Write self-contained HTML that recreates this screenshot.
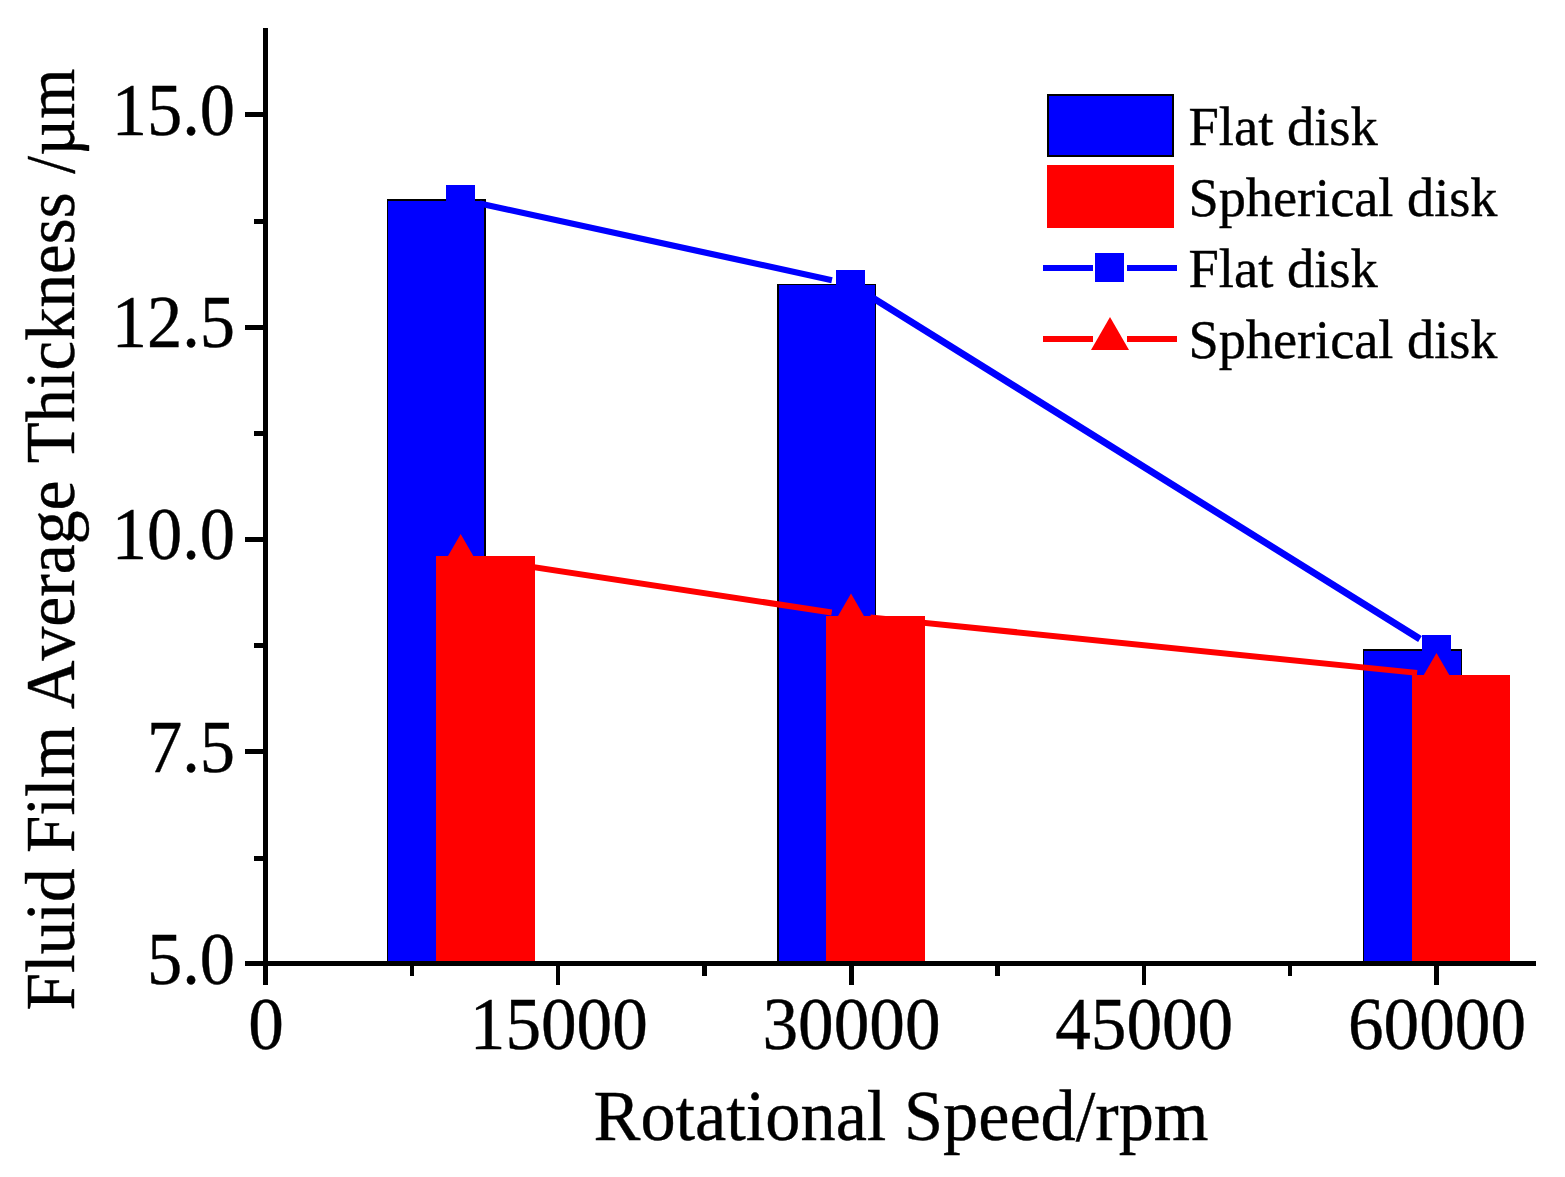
<!DOCTYPE html>
<html lang="en"><head><meta charset="utf-8"><title>Fluid Film Average Thickness vs Rotational Speed</title>
<style>html,body{margin:0;padding:0;background:#fff}svg{display:block}text{font-family:"Liberation Serif",serif;fill:#000;font-kerning:none;stroke:#000;stroke-width:0.4px}</style></head><body>
<svg width="1565" height="1177" viewBox="0 0 1565 1177">
<rect x="0" y="0" width="1565" height="1177" fill="#ffffff"/>
<g shape-rendering="crispEdges">
<rect x="387" y="199" width="99" height="762" fill="#000"/>
<rect x="388" y="201" width="96" height="760" fill="#0000ff"/>
<rect x="777" y="284" width="99" height="677" fill="#000"/>
<rect x="779" y="285" width="96" height="676" fill="#0000ff"/>
<rect x="1363" y="649" width="99" height="312" fill="#000"/>
<rect x="1364" y="651" width="97" height="310" fill="#0000ff"/>
<rect x="436" y="556" width="99" height="405" fill="#ff0000"/>
<rect x="826" y="616" width="99" height="345" fill="#ff0000"/>
<rect x="1412" y="675" width="98" height="286" fill="#ff0000"/>
</g>
<line x1="479.72" y1="203.54" x2="831.95" y2="280.16" stroke="#0000ff" stroke-width="6.2"/>
<line x1="867.55" y1="294.62" x2="1419.95" y2="639.05" stroke="#0000ff" stroke-width="6.9"/>
<rect x="446" y="185" width="29" height="29" fill="#0000ff" shape-rendering="crispEdges"/>
<rect x="836" y="270" width="29" height="29" fill="#0000ff" shape-rendering="crispEdges"/>
<rect x="1422" y="635" width="29" height="29" fill="#0000ff" shape-rendering="crispEdges"/>
<line x1="479.94" y1="558.92" x2="831.72" y2="612.47" stroke="#ff0000" stroke-width="6"/>
<line x1="870.40" y1="617.38" x2="1417.10" y2="672.87" stroke="#ff0000" stroke-width="6"/>
<polygon points="460.67,534.04 479.67,566.95 441.67,566.95" fill="#ff0000"/>
<polygon points="851.00,593.47 870.00,626.38 832.00,626.38" fill="#ff0000"/>
<polygon points="1436.50,652.90 1455.50,685.81 1417.50,685.81" fill="#ff0000"/>
<g fill="#000" shape-rendering="crispEdges">
<rect x="263" y="28" width="5" height="957"/>
<rect x="245" y="961" width="1291" height="5"/>
<rect x="245" y="112" width="18" height="5"/>
<rect x="245" y="325" width="18" height="5"/>
<rect x="245" y="537" width="18" height="5"/>
<rect x="245" y="749" width="18" height="5"/>
<rect x="254" y="219" width="9" height="5"/>
<rect x="254" y="431" width="9" height="5"/>
<rect x="254" y="643" width="9" height="5"/>
<rect x="254" y="856" width="9" height="5"/>
<rect x="556" y="966" width="4" height="19"/>
<rect x="849" y="966" width="5" height="19"/>
<rect x="1142" y="966" width="4" height="19"/>
<rect x="1434" y="966" width="5" height="19"/>
<rect x="410" y="966" width="4" height="10"/>
<rect x="702" y="966" width="5" height="10"/>
<rect x="995" y="966" width="5" height="10"/>
<rect x="1288" y="966" width="4" height="10"/>
</g>
<text class="yt" x="235" y="134.9" font-size="73.8" text-anchor="end" textLength="123.3" lengthAdjust="spacingAndGlyphs">15.0</text>
<text class="yt" x="235" y="347.1" font-size="73.8" text-anchor="end" textLength="123.3" lengthAdjust="spacingAndGlyphs">12.5</text>
<text class="yt" x="235" y="559.4" font-size="73.8" text-anchor="end" textLength="123.3" lengthAdjust="spacingAndGlyphs">10.0</text>
<text class="yt" x="235" y="771.6" font-size="73.8" text-anchor="end" textLength="88.1" lengthAdjust="spacingAndGlyphs">7.5</text>
<text class="yt" x="235" y="983.9" font-size="73.8" text-anchor="end" textLength="88.1" lengthAdjust="spacingAndGlyphs">5.0</text>
<text class="xt" x="266.0" y="1049" font-size="73.8" text-anchor="middle" textLength="35.6" lengthAdjust="spacingAndGlyphs">0</text>
<text class="xt" x="558.8" y="1049" font-size="73.8" text-anchor="middle" textLength="178.0" lengthAdjust="spacingAndGlyphs">15000</text>
<text class="xt" x="851.5" y="1049" font-size="73.8" text-anchor="middle" textLength="178.0" lengthAdjust="spacingAndGlyphs">30000</text>
<text class="xt" x="1144.2" y="1049" font-size="73.8" text-anchor="middle" textLength="178.0" lengthAdjust="spacingAndGlyphs">45000</text>
<text class="xt" x="1437.0" y="1049" font-size="73.8" text-anchor="middle" textLength="178.0" lengthAdjust="spacingAndGlyphs">60000</text>
<text id="xl" x="593.5" y="1139.5" font-size="72.3" textLength="615" lengthAdjust="spacingAndGlyphs">Rotational Speed/rpm</text>
<text id="yl" transform="translate(74.4,1010) rotate(-90)" font-size="69"><tspan x="-0.5" textLength="142.1" lengthAdjust="spacingAndGlyphs">Fluid</tspan> <tspan x="157.1" textLength="126.8" lengthAdjust="spacingAndGlyphs">Film</tspan> <tspan x="300.7" textLength="228.8" lengthAdjust="spacingAndGlyphs">Average</tspan> <tspan x="546.7" textLength="271.0" lengthAdjust="spacingAndGlyphs">Thickness</tspan> <tspan x="836.3" textLength="104.9" lengthAdjust="spacingAndGlyphs">/µm</tspan></text>
<g shape-rendering="crispEdges">
<rect x="1047" y="94" width="127" height="63" fill="#000"/><rect x="1049" y="96" width="123" height="59" fill="#0000ff"/>
<rect x="1047" y="165" width="127" height="63" fill="#ff0000"/>
<rect x="1043" y="265" width="50" height="6" fill="#0000ff"/><rect x="1127" y="265" width="50" height="6" fill="#0000ff"/><rect x="1095" y="253" width="29" height="29" fill="#0000ff"/>
<rect x="1043" y="336" width="50" height="6" fill="#ff0000"/><rect x="1127" y="336" width="50" height="6" fill="#ff0000"/>
</g>
<polygon points="1110.00,317.06 1129.00,349.97 1091.00,349.97" fill="#ff0000"/>
<text class="lg" x="1188.5" y="145.0" font-size="54.5">Flat disk</text>
<text class="lg" x="1188.5" y="216.0" font-size="54.5" textLength="309" lengthAdjust="spacingAndGlyphs">Spherical disk</text>
<text class="lg" x="1188.5" y="287.0" font-size="54.5">Flat disk</text>
<text class="lg" x="1188.5" y="358.0" font-size="54.5" textLength="309" lengthAdjust="spacingAndGlyphs">Spherical disk</text>
</svg></body></html>
